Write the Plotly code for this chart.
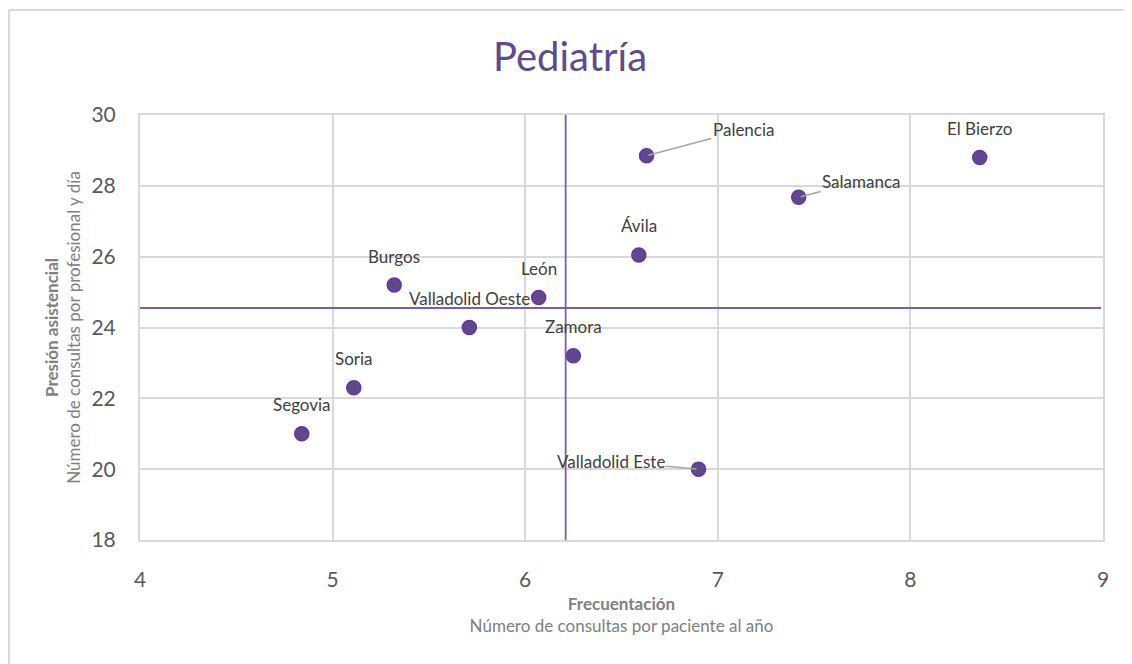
import plotly.graph_objects as go

# areas de salud
areas = ['Segovia', 'Soria', 'Burgos', 'Valladolid Oeste', 'León', 'Zamora',
         'Ávila', 'Palencia', 'Valladolid Este', 'Salamanca', 'El Bierzo']
frecuentacion = [4.84, 5.11, 5.32, 5.71, 6.07, 6.25, 6.59, 6.63, 6.90, 7.42, 8.36]
presion = [21.0, 22.3, 25.2, 24.0, 24.85, 23.2, 26.05, 28.85, 20.0, 27.68, 28.8]

media_frec = 6.21
media_pres = 24.55

x_ticks = [4, 5, 6, 7, 8, 9]
y_ticks = [18, 20, 22, 24, 26, 28, 30]

# etiquetas con linea guia: (dx, dy) en pixeles
guias = {'Palencia': (97, -26), 'Salamanca': (63, -16), 'Valladolid Este': (-88, -8)}

purple = '#7030A0'
grid = '#D9D9D9'
font = 'Lato, Calibri, sans-serif'

fig = go.Figure()

fig.add_trace(go.Scatter(
    x=frecuentacion, y=presion, mode='markers',
    marker=dict(size=14, color='#5E4A8B', line=dict(color=purple, width=1.5)),
    hoverinfo='text', text=areas, showlegend=False
))

# lineas de la media
fig.add_shape(type='line', xref='x', yref='y', x0=3.97, x1=8.99, y0=media_pres, y1=media_pres,
              line=dict(color='#7E5CAB', width=1.8))
fig.add_shape(type='line', xref='x', yref='y', x0=media_frec, x1=media_frec, y0=17.95, y1=30.2,
              line=dict(color='#7E5CAB', width=1.8))

for nombre, fx, py in zip(areas, frecuentacion, presion):
    if nombre in guias:
        dx, dy = guias[nombre]
        fig.add_annotation(x=fx, y=py, text=nombre, showarrow=True, arrowhead=0,
                           arrowcolor='#A6A6A6', arrowwidth=1.5, ax=dx, ay=dy,
                           standoff=2, font=dict(size=17, color='#404040', family=font))
    else:
        fig.add_annotation(x=fx, y=py, text=nombre, showarrow=False, yshift=29,
                           font=dict(size=17, color='#404040', family=font))

# borde exterior del grafico (solo izquierda y arriba quedan visibles)
fig.add_shape(type='line', xref='paper', yref='paper',
              x0=-131 / 963, x1=-131 / 963, y0=-0.4, y1=1 + 105 / 425,
              line=dict(color=grid, width=2), layer='below')
fig.add_shape(type='line', xref='paper', yref='paper',
              x0=-131 / 963, x1=1.1, y0=1 + 105 / 425, y1=1 + 105 / 425,
              line=dict(color=grid, width=2), layer='below')

fig.update_layout(
    width=1124, height=656,
    margin=dict(l=132, r=29, t=107, b=124),
    paper_bgcolor='white', plot_bgcolor='white',
    font=dict(family=font, color='#595959'),
    title=dict(text='Pediatría', x=0.5, xref='container', xanchor='center', y=0.925, yanchor='middle',
               font=dict(size=40, color='#5F4A8B', family=font)),
    xaxis=dict(range=[4, 9], tickvals=x_ticks, showgrid=True, gridcolor=grid, gridwidth=2,
               showline=True, linecolor=grid, linewidth=2, mirror=True, zeroline=False,
               ticklabelstandoff=20, tickfont=dict(size=21, color='#595959'),
               title=dict(text='<b>Frecuentación</b><br>Número de consultas por paciente al año',
                          font=dict(size=17, color='#808080'), standoff=8)),
    yaxis=dict(range=[18, 30], tickvals=y_ticks, showgrid=True, gridcolor=grid, gridwidth=2,
               showline=True, linecolor=grid, linewidth=2, mirror=True, zeroline=False,
               ticklabelstandoff=18, tickfont=dict(size=21, color='#595959'),
               title=dict(text='<b>Presión asistencial</b><br>Número de consultas por profesional y día',
                          font=dict(size=17, color='#808080'), standoff=6)),
)

fig.write_html('out.html')
